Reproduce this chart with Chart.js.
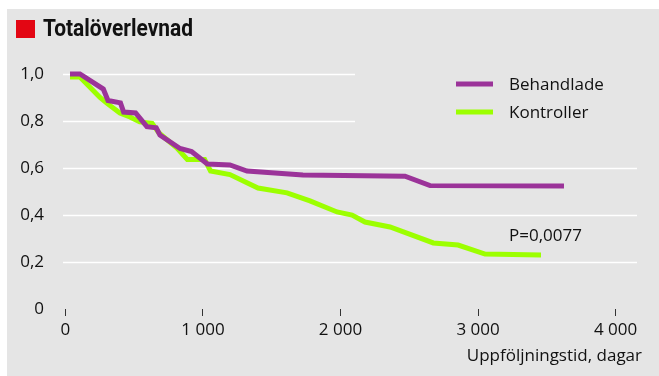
<!DOCTYPE html>
<html lang="sv">
<head>
<meta charset="utf-8">
<script src="https://cdn.jsdelivr.net/npm/chart.js@4"></script>
<style>
  html, body { margin: 0; padding: 0; background: #fff; }
  #wrap { width: 659px; height: 376px; }
</style>
</head>
<body>
<div id="wrap"><canvas id="km-chart" width="659" height="376"></canvas></div>
<script>
// dagar / överlevnad, avläst från originalbilden
const behDays = [33, 105, 275, 309, 400, 423, 510, 592, 660, 687, 833, 917, 1032, 1196, 1320, 1727, 2469, 2651, 3625];
const behSurv = [1.0, 1.0, 0.936, 0.887, 0.877, 0.838, 0.834, 0.776, 0.771, 0.74, 0.683, 0.670, 0.617, 0.613, 0.587, 0.570, 0.565, 0.525, 0.523];

const konDays = [33, 105, 251, 298, 396, 469, 540, 630, 680, 811, 886, 1012, 1055, 1196, 1400, 1611, 1778, 1975, 2084, 2178, 2360, 2675, 2855, 3051, 3458];
const konSurv = [0.987, 0.987, 0.90, 0.877, 0.834, 0.817, 0.796, 0.790, 0.749, 0.685, 0.636, 0.636, 0.587, 0.572, 0.515, 0.494, 0.460, 0.413, 0.400, 0.370, 0.349, 0.281, 0.272, 0.234, 0.230];

const seriesLabels = ["Behandlade", "Kontroller"];
const xTicks = [0, 1000, 2000, 3000, 4000];
const yTicks = [0, 0.2, 0.4, 0.6, 0.8, 1.0];
const pValue = "P=0,0077";

const PURPLE = "#9b3399";
const GREEN = "#9cff00";
const FONT = "'Open Sans', sans-serif";
const TEXT = "#111";

const toPoints = (xs, ys) => xs.map((x, i) => ({ x, y: ys[i] }));

// bakgrund, rubrik, stödlinjer, förklaring
const decorPlugin = {
  id: "decor",
  beforeDraw(chart) {
    const { ctx, width, height } = chart;
    ctx.save();
    ctx.fillStyle = "#fff";
    ctx.fillRect(0, 0, width, height);
    ctx.fillStyle = "#e5e5e5";
    ctx.fillRect(7, 9, width - 7, height - 9);
    // rubrik
    ctx.fillStyle = "#e30613";
    ctx.fillRect(16, 20, 19, 18);
    ctx.fillStyle = TEXT;
    ctx.font = "bold 23px Roboto, sans-serif";
    ctx.textBaseline = "middle";
    ctx.fillText("Totalöverlevnad", 43, 30, 150);
    ctx.restore();
  },
  beforeDatasetsDraw(chart) {
    const { ctx, chartArea, scales } = chart;
    ctx.save();
    ctx.strokeStyle = "#fff";
    ctx.lineWidth = 1.5;
    yTicks.forEach((v) => {
      if (v === 0) return;
      const y = Math.round(scales.y.getPixelForValue(v)) + 0.5;
      // de två översta linjerna stannar före förklaringen
      const right = v >= 0.8 ? 355 : chartArea.right;
      ctx.beginPath();
      ctx.moveTo(chartArea.left, y);
      ctx.lineTo(right, y);
      ctx.stroke();
    });
    ctx.restore();
  },
  afterDraw(chart) {
    const { ctx } = chart;
    ctx.save();
    ctx.font = "17px " + FONT;
    ctx.textBaseline = "middle";
    // förklaring
    chart.data.datasets.forEach((ds, i) => {
      const y = 84 + i * 28;
      ctx.strokeStyle = ds.borderColor;
      ctx.lineWidth = 5;
      ctx.beginPath();
      ctx.moveTo(456, y);
      ctx.lineTo(493, y);
      ctx.stroke();
      ctx.fillStyle = TEXT;
      ctx.fillText(ds.label, 509, y + 1);
    });
    // p-värde
    ctx.fillStyle = TEXT;
    ctx.fillText(pValue, 509, 236);
    // axeltitel
    ctx.textAlign = "right";
    ctx.fillText("Uppföljningstid, dagar", 642, 356);
    ctx.restore();
  },
};

new Chart(document.getElementById("km-chart"), {
  type: "line",
  data: {
    datasets: [
      {
        label: seriesLabels[0],
        data: toPoints(behDays, behSurv),
        borderColor: PURPLE,
        borderWidth: 5,
        pointRadius: 0,
        tension: 0,
        clip: false,
      },
      {
        label: seriesLabels[1],
        data: toPoints(konDays, konSurv),
        borderColor: GREEN,
        borderWidth: 5,
        pointRadius: 0,
        tension: 0,
        clip: false,
      },
    ],
  },
  options: {
    responsive: false,
    animation: false,
    layout: { padding: { top: 74, right: 22, left: 0, bottom: 0 } },
    plugins: {
      legend: { display: false },
      tooltip: { enabled: false },
    },
    scales: {
      x: {
        type: "linear",
        min: -18,
        max: 4156,
        afterBuildTicks: (axis) => {
          axis.ticks = xTicks.map((v) => ({ value: v }));
        },
        afterFit: (axis) => { axis.height = 67; },
        border: { display: false },
        grid: {
          drawOnChartArea: false,
          drawTicks: true,
          tickLength: 7,
          color: "#333",
          lineWidth: 1,
        },
        ticks: {
          padding: 4,
          maxRotation: 0,
          color: TEXT,
          font: { family: FONT, size: 17 },
          callback: (v) => String(v).replace(/\B(?=(\d{3})+(?!\d))/g, " "),
        },
      },
      y: {
        type: "linear",
        min: 0,
        max: 1,
        afterBuildTicks: (axis) => {
          axis.ticks = yTicks.map((v) => ({ value: v }));
        },
        afterFit: (axis) => { axis.width = 63; },
        border: { display: false },
        grid: { display: false },
        ticks: {
          padding: 11,
          color: TEXT,
          font: { family: FONT, size: 17 },
          callback: (v) => (v === 0 ? "0" : v.toFixed(1).replace(".", ",")),
        },
      },
    },
  },
  plugins: [decorPlugin],
});
</script>
</body>
</html>
